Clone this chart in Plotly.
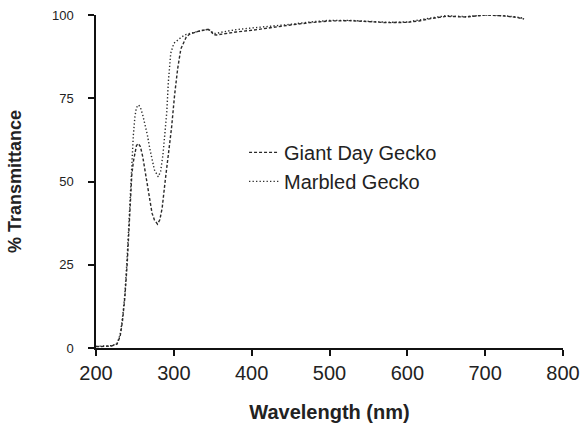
import plotly.graph_objects as go

# Giant Day Gecko (dashed)
wl_giant = [200, 210, 220, 227, 231, 234, 237, 240, 242, 244, 246, 248, 250, 252, 254.5, 257, 260, 263, 266, 269,
            272, 275, 279, 282, 285, 289, 293, 297, 301, 305, 309, 313, 316, 320, 325, 330, 337, 344, 348, 351,
            355, 365, 380, 400, 425, 450, 475, 500, 525, 550, 575, 600, 615, 630, 650, 675, 700, 725, 740, 750]
t_giant = [0.4, 0.4, 0.6, 1.2, 3.5, 8, 15, 25, 34, 45, 52, 56, 59, 60.8, 61.4, 60.5, 57.5, 53, 48.5, 44,
           40.5, 38.5, 37.2, 38.5, 42, 50.4, 58, 66, 76, 84, 89.8, 92.2, 93.4, 94.2, 94.7, 95, 95.4, 95.7, 95, 94.1,
           94.0, 94.4, 94.9, 95.4, 96.3, 97.0, 97.7, 98.2, 98.3, 98.0, 97.7, 97.8, 98.2, 98.9, 99.6, 99.4, 100, 99.7, 99.3, 98.8]

# Marbled Gecko (dotted)
wl_marbled = [200, 210, 220, 227, 231, 234, 237, 240, 242, 244, 246, 248, 250, 252, 254.5, 257, 260, 263, 266, 269,
              272, 275, 280, 283, 286, 289, 291, 293, 296, 300, 305, 310, 316, 325, 335, 344, 348, 351,
              355, 365, 380, 400, 425, 450, 475, 500, 525, 550, 575, 600, 615, 630, 650, 675, 700, 725, 740, 750]
t_marbled = [0.5, 0.5, 0.7, 1.3, 4, 9, 16, 27, 36, 47, 56, 64, 69.5, 72.2, 73, 72.3, 70, 67, 64, 60,
             56.5, 53.5, 51.4, 53, 58, 66, 71, 80, 88.5, 91.5, 92.6, 93.4, 94.2, 94.8, 95.3, 95.7, 95.2, 94.4,
             94.5, 95.0, 95.6, 96.1, 96.6, 97.2, 97.9, 98.4, 98.4, 98.1, 97.8, 97.9, 98.4, 99.1, 99.8, 99.5, 100, 99.8, 99.4, 99.0]

x_ticks = [200, 300, 400, 500, 600, 700, 800]
y_ticks = [0, 25, 50, 75, 100]

FONT = "Liberation Sans, Arial, Helvetica, sans-serif"

fig = go.Figure()
fig.add_trace(go.Scatter(x=wl_giant, y=t_giant, mode="lines", name="Giant Day Gecko",
                         line=dict(color="#2a2a2a", width=1.4, dash="3px,2px"), cliponaxis=False))
fig.add_trace(go.Scatter(x=wl_marbled, y=t_marbled, mode="lines", name="Marbled Gecko",
                         line=dict(color="#2a2a2a", width=1.4, dash="1.3px,2.2px"), cliponaxis=False))

fig.update_layout(
    width=581, height=424,
    margin=dict(l=96, r=18, t=15, b=76, autoexpand=False),
    paper_bgcolor="white", plot_bgcolor="white",
    font=dict(family=FONT, color="#222222"),
    showlegend=True,
    legend=dict(x=0.317, y=0.646, xanchor="left", yanchor="top",
                bgcolor="rgba(0,0,0,0)", font=dict(size=20, color="#222222"),
                itemwidth=30, tracegroupgap=0),
    xaxis=dict(range=[200, 800], tickvals=x_ticks, ticktext=[str(v) for v in x_ticks],
               showgrid=False, zeroline=False, showline=True, linecolor="#111111", linewidth=1.5,
               ticks="outside", ticklen=6, tickwidth=1.5, tickcolor="#111111", automargin=False,
               tickfont=dict(size=20, color="#222222"),
               title=dict(text="<b>Wavelength (nm)</b>", font=dict(size=20, color="#222222"), standoff=22)),
    yaxis=dict(range=[0, 100], tickvals=y_ticks, ticktext=[str(v) for v in y_ticks],
               showgrid=False, zeroline=False, showline=True, linecolor="#111111", linewidth=1.5,
               ticks="outside", ticklen=6, tickwidth=1.5, tickcolor="#111111", automargin=False,
               tickfont=dict(size=13, color="#222222"), ticklabelstandoff=12,
               title=dict(text="<b>% Transmittance</b>", font=dict(size=18, color="#222222"), standoff=26)),
)

fig.write_html("out.html", config={"displayModeBar": False},
               post_script="document.body.style.margin='0';")
